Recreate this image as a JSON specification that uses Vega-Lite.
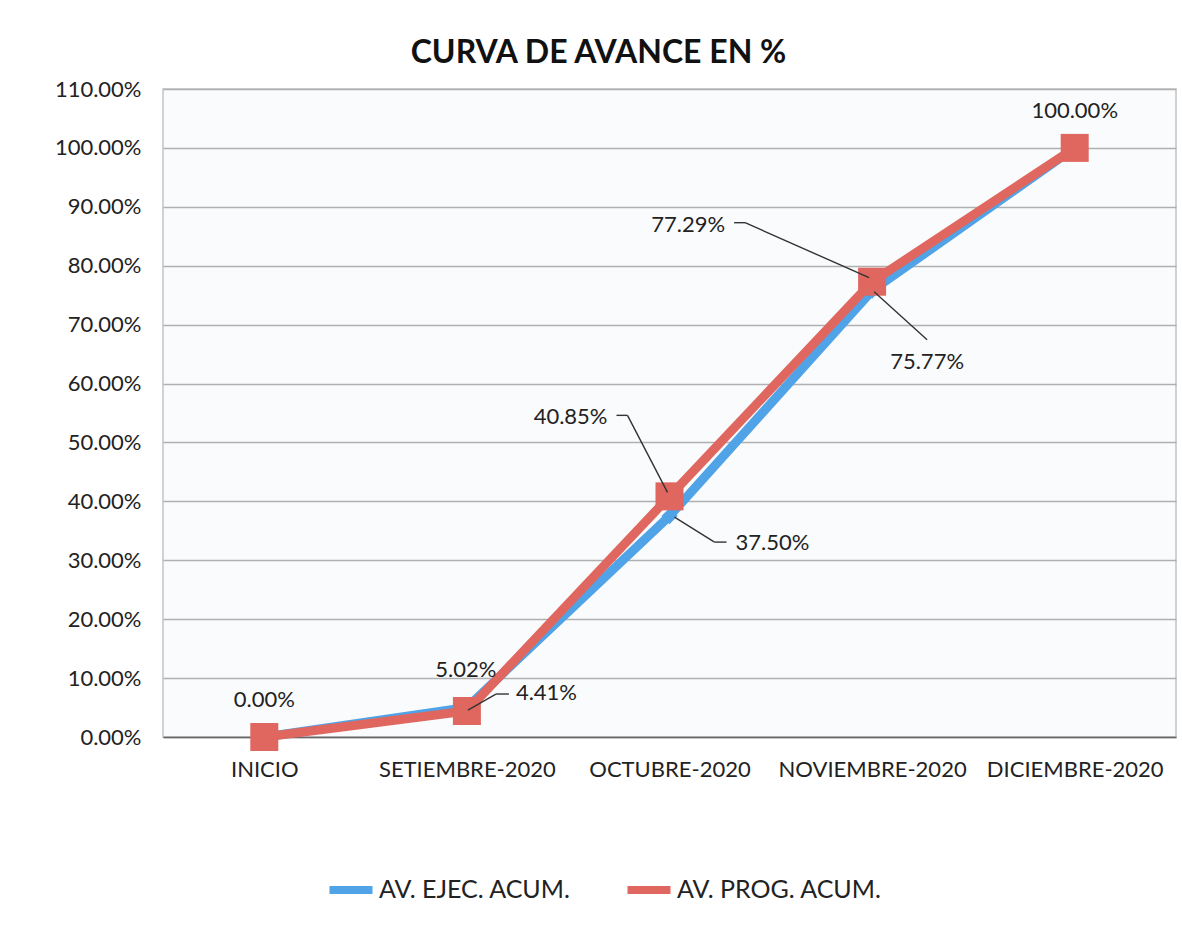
{
  "$schema": "https://vega.github.io/schema/vega-lite/v6.json",
  "width": 1013,
  "height": 648,
  "autosize": {"type": "none"},
  "padding": {"left": 163, "top": 89, "right": 6, "bottom": 208},
  "background": "white",
  "title": {
    "text": "CURVA DE AVANCE EN %",
    "fontSize": 32,
    "fontWeight": "bold",
    "font": "Lato",
    "color": "#111111",
    "anchor": "middle",
    "dx": -71,
    "offset": 8
  },
  "data": {
    "values": [
      {"periodo": "INICIO", "serie": "AV. EJEC. ACUM.", "valor": 0.0},
      {"periodo": "SETIEMBRE-2020", "serie": "AV. EJEC. ACUM.", "valor": 0.0502},
      {"periodo": "OCTUBRE-2020", "serie": "AV. EJEC. ACUM.", "valor": 0.375},
      {"periodo": "NOVIEMBRE-2020", "serie": "AV. EJEC. ACUM.", "valor": 0.7577},
      {"periodo": "DICIEMBRE-2020", "serie": "AV. EJEC. ACUM.", "valor": 1.0},
      {"periodo": "INICIO", "serie": "AV. PROG. ACUM.", "valor": 0.0},
      {"periodo": "SETIEMBRE-2020", "serie": "AV. PROG. ACUM.", "valor": 0.0441},
      {"periodo": "OCTUBRE-2020", "serie": "AV. PROG. ACUM.", "valor": 0.4085},
      {"periodo": "NOVIEMBRE-2020", "serie": "AV. PROG. ACUM.", "valor": 0.7729},
      {"periodo": "DICIEMBRE-2020", "serie": "AV. PROG. ACUM.", "valor": 1.0}
    ]
  },
  "encoding": {
    "x": {
      "field": "periodo",
      "type": "ordinal",
      "sort": ["INICIO", "SETIEMBRE-2020", "OCTUBRE-2020", "NOVIEMBRE-2020", "DICIEMBRE-2020"],
      "scale": {"type": "point", "padding": 0.5},
      "axis": {
        "title": null,
        "labelAngle": 0,
        "labelFontSize": 22,
        "labelFont": "Lato",
        "labelColor": "#222222",
        "labelPadding": 22,
        "labelLimit": 400,
        "labelOverlap": false,
        "ticks": false,
        "domain": true,
        "domainColor": "#666666",
        "domainWidth": 1.5,
        "grid": false
      }
    },
    "y": {
      "field": "valor",
      "type": "quantitative",
      "scale": {"domain": [0, 1.1], "nice": false},
      "axis": {
        "title": null,
        "format": ".2%",
        "values": [0, 0.1, 0.2, 0.3, 0.4, 0.5, 0.6, 0.7, 0.8, 0.9, 1.0, 1.1],
        "labelFontSize": 22,
        "labelFont": "Lato",
        "labelColor": "#222222",
        "labelPadding": 22,
        "ticks": false,
        "domain": false,
        "grid": true,
        "gridColor": "#B0B0B0",
        "gridWidth": 1.5
      }
    }
  },
  "layer": [
    {
      "transform": [{"filter": "datum.serie === 'AV. EJEC. ACUM.'"}],
      "mark": {"type": "line", "strokeWidth": 9},
      "encoding": {
        "color": {
          "field": "serie",
          "type": "nominal",
          "scale": {"domain": ["AV. EJEC. ACUM.", "AV. PROG. ACUM."], "range": ["#4FA3E6", "#E0675F"]},
          "legend": {
            "title": null,
            "orient": "none",
            "direction": "horizontal",
            "legendX": 162,
            "legendY": 775,
            "symbolType": "stroke",
            "symbolSize": 1850,
            "symbolStrokeWidth": 8,
            "labelFontSize": 25,
            "labelFont": "Lato",
            "labelColor": "#222222",
            "labelOffset": 2,
            "columnPadding": 40,
            "labelLimit": 400
          }
        }
      }
    },
    {
      "transform": [{"filter": "datum.serie === 'AV. PROG. ACUM.'"}],
      "mark": {"type": "line", "strokeWidth": 9},
      "encoding": {"color": {"field": "serie", "type": "nominal"}}
    },
    {
      "transform": [{"filter": "datum.serie === 'AV. EJEC. ACUM.'"}],
      "mark": {"type": "point", "shape": "diamond", "filled": true, "size": 260, "color": "#4FA3E6", "opacity": 1}
    },
    {
      "transform": [{"filter": "datum.serie === 'AV. PROG. ACUM.'"}],
      "mark": {"type": "point", "shape": "square", "filled": true, "size": 784, "color": "#E0675F", "opacity": 1}
    },
    {
      "transform": [{"filter": "datum.serie === 'AV. PROG. ACUM.' && datum.periodo === 'SETIEMBRE-2020'"}],
      "mark": {"type": "rule", "color": "#333333", "strokeWidth": 1.4, "xOffset": 1, "yOffset": -1, "x2Offset": 29, "y2Offset": -17},
      "encoding": {"x2": {"field": "periodo"}, "y2": {"field": "valor"}}
    },
    {
      "transform": [{"filter": "datum.serie === 'AV. PROG. ACUM.' && datum.periodo === 'SETIEMBRE-2020'"}],
      "mark": {"type": "rule", "color": "#333333", "strokeWidth": 1.4, "xOffset": 29, "yOffset": -17, "x2Offset": 42, "y2Offset": -17},
      "encoding": {"x2": {"field": "periodo"}, "y2": {"field": "valor"}}
    },
    {
      "transform": [{"filter": "datum.serie === 'AV. PROG. ACUM.' && datum.periodo === 'OCTUBRE-2020'"}],
      "mark": {"type": "rule", "color": "#333333", "strokeWidth": 1.4, "xOffset": -53, "yOffset": -81, "x2Offset": -42, "y2Offset": -81},
      "encoding": {"x2": {"field": "periodo"}, "y2": {"field": "valor"}}
    },
    {
      "transform": [{"filter": "datum.serie === 'AV. PROG. ACUM.' && datum.periodo === 'OCTUBRE-2020'"}],
      "mark": {"type": "rule", "color": "#333333", "strokeWidth": 1.4, "xOffset": -42, "yOffset": -81, "x2Offset": -2, "y2Offset": -4},
      "encoding": {"x2": {"field": "periodo"}, "y2": {"field": "valor"}}
    },
    {
      "transform": [{"filter": "datum.serie === 'AV. EJEC. ACUM.' && datum.periodo === 'OCTUBRE-2020'"}],
      "mark": {"type": "rule", "color": "#333333", "strokeWidth": 1.4, "xOffset": 5, "yOffset": 1, "x2Offset": 45, "y2Offset": 26},
      "encoding": {"x2": {"field": "periodo"}, "y2": {"field": "valor"}}
    },
    {
      "transform": [{"filter": "datum.serie === 'AV. EJEC. ACUM.' && datum.periodo === 'OCTUBRE-2020'"}],
      "mark": {"type": "rule", "color": "#333333", "strokeWidth": 1.4, "xOffset": 45, "yOffset": 26, "x2Offset": 57, "y2Offset": 26},
      "encoding": {"x2": {"field": "periodo"}, "y2": {"field": "valor"}}
    },
    {
      "transform": [{"filter": "datum.serie === 'AV. PROG. ACUM.' && datum.periodo === 'NOVIEMBRE-2020'"}],
      "mark": {"type": "rule", "color": "#333333", "strokeWidth": 1.4, "xOffset": -138, "yOffset": -59, "x2Offset": -127, "y2Offset": -59},
      "encoding": {"x2": {"field": "periodo"}, "y2": {"field": "valor"}}
    },
    {
      "transform": [{"filter": "datum.serie === 'AV. PROG. ACUM.' && datum.periodo === 'NOVIEMBRE-2020'"}],
      "mark": {"type": "rule", "color": "#333333", "strokeWidth": 1.4, "xOffset": -127, "yOffset": -59, "x2Offset": -3, "y2Offset": -4},
      "encoding": {"x2": {"field": "periodo"}, "y2": {"field": "valor"}}
    },
    {
      "transform": [{"filter": "datum.serie === 'AV. EJEC. ACUM.' && datum.periodo === 'NOVIEMBRE-2020'"}],
      "mark": {"type": "rule", "color": "#333333", "strokeWidth": 1.4, "xOffset": 2, "yOffset": 1, "x2Offset": 55, "y2Offset": 49},
      "encoding": {"x2": {"field": "periodo"}, "y2": {"field": "valor"}}
    },
    {
      "transform": [{"filter": "datum.serie === 'AV. PROG. ACUM.' && (datum.periodo === 'INICIO' || datum.periodo === 'DICIEMBRE-2020')"}],
      "mark": {"type": "text", "fontSize": 22, "font": "Lato", "color": "#222222", "align": "center", "baseline": "middle", "dy": -37},
      "encoding": {"text": {"field": "valor", "type": "quantitative", "format": ".2%"}}
    },
    {
      "transform": [{"filter": "datum.serie === 'AV. EJEC. ACUM.' && datum.periodo === 'SETIEMBRE-2020'"}],
      "mark": {"type": "text", "fontSize": 22, "font": "Lato", "color": "#222222", "align": "center", "baseline": "middle", "dy": -37, "dx": -1},
      "encoding": {"text": {"field": "valor", "type": "quantitative", "format": ".2%"}}
    },
    {
      "transform": [{"filter": "datum.serie === 'AV. PROG. ACUM.' && datum.periodo === 'SETIEMBRE-2020'"}],
      "mark": {"type": "text", "fontSize": 22, "font": "Lato", "color": "#222222", "align": "left", "baseline": "middle", "dx": 49, "dy": -18},
      "encoding": {"text": {"field": "valor", "type": "quantitative", "format": ".2%"}}
    },
    {
      "transform": [{"filter": "datum.serie === 'AV. PROG. ACUM.' && datum.periodo === 'OCTUBRE-2020'"}],
      "mark": {"type": "text", "fontSize": 22, "font": "Lato", "color": "#222222", "align": "right", "baseline": "middle", "dx": -62, "dy": -79},
      "encoding": {"text": {"field": "valor", "type": "quantitative", "format": ".2%"}}
    },
    {
      "transform": [{"filter": "datum.serie === 'AV. EJEC. ACUM.' && datum.periodo === 'OCTUBRE-2020'"}],
      "mark": {"type": "text", "fontSize": 22, "font": "Lato", "color": "#222222", "align": "left", "baseline": "middle", "dx": 66, "dy": 27},
      "encoding": {"text": {"field": "valor", "type": "quantitative", "format": ".2%"}}
    },
    {
      "transform": [{"filter": "datum.serie === 'AV. PROG. ACUM.' && datum.periodo === 'NOVIEMBRE-2020'"}],
      "mark": {"type": "text", "fontSize": 22, "font": "Lato", "color": "#222222", "align": "right", "baseline": "middle", "dx": -147, "dy": -57},
      "encoding": {"text": {"field": "valor", "type": "quantitative", "format": ".2%"}}
    },
    {
      "transform": [{"filter": "datum.serie === 'AV. EJEC. ACUM.' && datum.periodo === 'NOVIEMBRE-2020'"}],
      "mark": {"type": "text", "fontSize": 22, "font": "Lato", "color": "#222222", "align": "center", "baseline": "middle", "dx": 55, "dy": 71},
      "encoding": {"text": {"field": "valor", "type": "quantitative", "format": ".2%"}}
    }
  ],
  "config": {
    "view": {"stroke": "#C4C4C4", "strokeWidth": 1.5, "fill": "#FAFBFC"}
  }
}
